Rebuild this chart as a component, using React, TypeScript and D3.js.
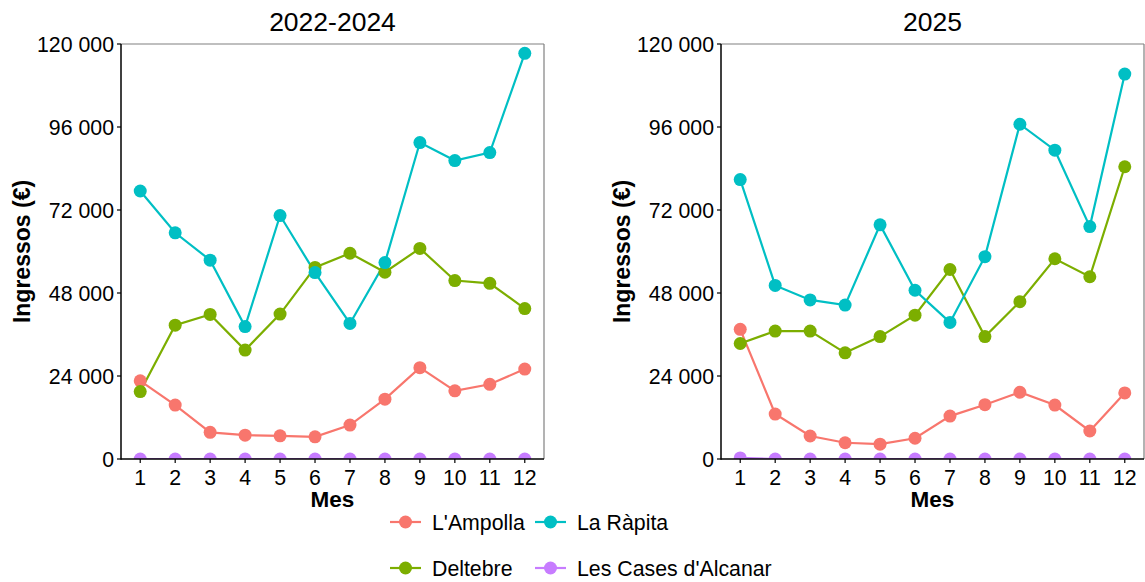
import React from "react";
import * as d3 from "d3";

const months = [1, 2, 3, 4, 5, 6, 7, 8, 9, 10, 11, 12];
const seriesNames = ["L'Ampolla", "Deltebre", "La Ràpita", "Les Cases d'Alcanar"];
const seriesColors = ["#F8766D", "#7CAE00", "#00BFC4", "#C77CFF"];
const yTicks = [0, 24000, 48000, 72000, 96000, 120000];

// Panel 2022-2024
const ampolla2224 = [22600, 15600, 7700, 6900, 6700, 6400, 9800, 17300, 26400, 19700, 21600, 26000];
const deltebre2224 = [19500, 38700, 41800, 31500, 41900, 55400, 59500, 54000, 60900, 51600, 50800, 43500];
const rapita2224 = [77500, 65400, 57500, 38300, 70400, 53900, 39200, 56800, 91500, 86300, 88600, 117300];
const cases2224 = [0, 0, 0, 0, 0, 0, 0, 0, 0, 0, 0, 0];

// Panel 2025
const ampolla25 = [37500, 13000, 6650, 4700, 4300, 6000, 12400, 15700, 19300, 15600, 8100, 19100];
const deltebre25 = [33400, 37000, 37000, 30700, 35400, 41600, 54800, 35400, 45500, 57900, 52700, 84500];
const rapita25 = [80800, 50200, 46000, 44500, 67700, 48800, 39500, 58500, 96800, 89300, 67200, 111300];
const cases25 = [300, 0, 0, 0, 0, 0, 0, 0, 0, 0, 0, 0];

const panels = [
  { title: "2022-2024", left: 121, series: [ampolla2224, deltebre2224, rapita2224, cases2224] },
  { title: "2025", left: 721, series: [ampolla25, deltebre25, rapita25, cases25] },
];

const PW = 423;
const TOP = 44;
const BOTTOM = 459;
const FONT = "Liberation Sans, Arial, Helvetica, sans-serif";

const fmt = (v: number) => d3.format(",")(v).replace(/,/g, " ");

function Panel({ p, idx }: { p: typeof panels[number]; idx: number }) {
  const x = d3.scaleLinear().domain([0.45, 12.55]).range([p.left, p.left + PW]);
  const y = d3.scaleLinear().domain([0, 120000]).range([BOTTOM, TOP]);
  const line = d3
    .line<number>()
    .x((_, i) => x(months[i]))
    .y((d) => y(d));
  const clipId = `clip${idx}`;
  const cx = p.left + PW / 2;
  return (
    <g>
      <defs>
        <clipPath id={clipId}>
          <rect x={p.left} y={TOP} width={PW} height={BOTTOM - TOP} />
        </clipPath>
      </defs>
      <text x={cx} y={31} textAnchor="middle" fontSize={26.5} fontFamily={FONT} fill="#000">
        {p.title}
      </text>
      <g clipPath={`url(#${clipId})`}>
        {p.series.map((s, si) => (
          <path key={"l" + si} d={line(s) || ""} fill="none" stroke={seriesColors[si]} strokeWidth={2.2} />
        ))}
        {p.series.map((s, si) =>
          s.map((v, i) => (
            <circle key={"c" + si + "-" + i} cx={x(months[i])} cy={y(v)} r={6.5} fill={seriesColors[si]} />
          ))
        )}
      </g>
      {/* border top/right */}
      <line x1={p.left} x2={p.left + PW} y1={TOP} y2={TOP} stroke="#808080" strokeWidth={1.2} />
      <line x1={p.left + PW} x2={p.left + PW} y1={TOP} y2={BOTTOM} stroke="#808080" strokeWidth={1.2} />
      {/* axes */}
      <line x1={p.left} x2={p.left} y1={TOP} y2={BOTTOM + 0.75} stroke="#000" strokeWidth={1.5} />
      <line x1={p.left} x2={p.left + PW} y1={BOTTOM} y2={BOTTOM} stroke="#000" strokeWidth={1.5} />
      {yTicks.map((t) => (
        <g key={"yt" + t}>
          <line x1={p.left - 4} x2={p.left} y1={y(t)} y2={y(t)} stroke="#000" strokeWidth={1.2} />
          <text x={p.left - 7} y={y(t)} dy="0.36em" textAnchor="end" fontSize={21.3} fontFamily={FONT} fill="#000">
            {fmt(t)}
          </text>
        </g>
      ))}
      {months.map((m) => (
        <g key={"xt" + m}>
          <line x1={x(m)} x2={x(m)} y1={BOTTOM} y2={BOTTOM + 4} stroke="#000" strokeWidth={1.2} />
          <text x={x(m)} y={484.5} textAnchor="middle" fontSize={21.3} fontFamily={FONT} fill="#000">
            {m}
          </text>
        </g>
      ))}
      <text x={cx} y={507} textAnchor="middle" fontSize={22.5} fontWeight="bold" fontFamily={FONT} fill="#000">
        Mes
      </text>
      <text
        transform={`translate(${p.left - 91},${(TOP + BOTTOM) / 2}) rotate(-90)`}
        textAnchor="middle"
        fontSize={23}
        fontWeight="bold"
        fontFamily={FONT}
        fill="#000"
      >
        Ingressos (€)
      </text>
    </g>
  );
}

function Legend() {
  const cols = [390, 535];
  const rows = [522, 568];
  const positions = [
    { si: 0, c: 0, r: 0 },
    { si: 1, c: 0, r: 1 },
    { si: 2, c: 1, r: 0 },
    { si: 3, c: 1, r: 1 },
  ];
  return (
    <g>
      {positions.map(({ si, c, r }) => (
        <g key={si}>
          <line x1={cols[c]} x2={cols[c] + 31} y1={rows[r]} y2={rows[r]} stroke={seriesColors[si]} strokeWidth={2.2} />
          <circle cx={cols[c] + 15.5} cy={rows[r]} r={6.5} fill={seriesColors[si]} />
          <text x={cols[c] + 42} y={rows[r]} dy="0.36em" fontSize={21.3} fontFamily={FONT} fill="#000">
            {seriesNames[si]}
          </text>
        </g>
      ))}
    </g>
  );
}

export default function App() {
  return (
    <svg
      width={1145}
      height={582}
      style={{ position: "absolute", left: 0, top: 0, background: "#fff" }}
    >
      <rect width={1145} height={582} fill="#fff" />
      {panels.map((p, i) => (
        <Panel key={i} p={p} idx={i} />
      ))}
      <Legend />
    </svg>
  );
}
